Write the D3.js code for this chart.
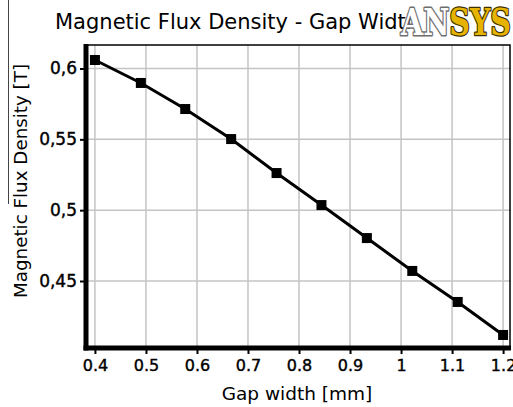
<!DOCTYPE html>
<html>
<head>
<meta charset="utf-8">
<script src="https://cdn.jsdelivr.net/npm/d3@7"></script>
<style>
  body { margin: 0; background: #fff; }
  svg { display: block; font-family: "DejaVu Sans", sans-serif; }
  .grid line { stroke: #c4c4c4; stroke-width: 1.5; }
</style>
</head>
<body>
<div id="chart"></div>
<script>
// gap width [mm] and flux density [T]
const gapWidth = [0.4, 0.49, 0.577, 0.667, 0.756, 0.844, 0.933, 1.022, 1.111, 1.2];
const fluxDensity = [0.606, 0.5898, 0.5714, 0.5502, 0.5262, 0.5036, 0.4803, 0.4571, 0.4352, 0.4119];
const xTicks = [0.4, 0.5, 0.6, 0.7, 0.8, 0.9, 1, 1.1, 1.2];
const yTicks = [0.45, 0.5, 0.55, 0.6];

const width = 513, height = 407;
const margin = {top: 45, right: 2, bottom: 59, left: 86};

const svg = d3.select("#chart").append("svg")
    .attr("width", width)
    .attr("height", height);

// scales
const x = d3.scaleLinear()
    .domain([0.3825, 1.2155])
    .range([margin.left, width - margin.right]);
const y = d3.scaleLinear()
    .domain([0.4027, 0.6166])
    .range([height - margin.bottom, margin.top]);

// grid
const grid = svg.append("g").attr("class", "grid");
grid.selectAll(".gx").data(xTicks).enter().append("line")
    .attr("x1", d => x(d)).attr("x2", d => x(d))
    .attr("y1", y.range()[1]).attr("y2", y.range()[0]);
grid.selectAll(".gy").data(yTicks).enter().append("line")
    .attr("y1", d => y(d)).attr("y2", d => y(d))
    .attr("x1", x.range()[0]).attr("x2", x.range()[1]);

// frame: thin top / right, heavy left / bottom
svg.append("rect")
    .attr("x", x.range()[0]).attr("y", y.range()[1])
    .attr("width", x.range()[1] - x.range()[0] - 1)
    .attr("height", y.range()[0] - y.range()[1])
    .attr("fill", "none").attr("stroke", "#000").attr("stroke-width", 1.5);

// x axis
const xAxis = svg.append("g")
    .attr("transform", "translate(0," + y.range()[0] + ")")
    .call(d3.axisBottom(x).tickValues(xTicks).tickSize(6).tickSizeOuter(0)
      .tickFormat(d => d3.format("")(d)));
xAxis.select(".domain").remove();
xAxis.selectAll(".tick line").attr("stroke", "#000").attr("stroke-width", 2);
xAxis.selectAll(".tick text").attr("y", 12).attr("dy", "0.71em")
    .attr("fill", "#000").attr("stroke", "#000").attr("stroke-width", 0.4)
    .style("font-size", "16px").style("font-family", "DejaVu Sans");

// y axis
const yAxis = svg.append("g")
    .attr("transform", "translate(" + x.range()[0] + ",0)")
    .call(d3.axisLeft(y).tickValues(yTicks).tickSize(6).tickSizeOuter(0)
      .tickFormat(d => String(d).replace(".", ",")));
yAxis.select(".domain").remove();
yAxis.selectAll(".tick line").attr("stroke", "#000").attr("stroke-width", 2);
yAxis.selectAll(".tick text").attr("x", -9)
    .attr("fill", "#000").attr("stroke", "#000").attr("stroke-width", 0.4)
    .style("font-size", "17px").style("font-family", "DejaVu Sans");

// heavy left and bottom border
svg.append("line")
    .attr("x1", x.range()[0]).attr("x2", x.range()[0])
    .attr("y1", y.range()[1] - 1).attr("y2", y.range()[0] + 2.5)
    .attr("stroke", "#000").attr("stroke-width", 5);
svg.append("line")
    .attr("x1", x.range()[0] - 2.5).attr("x2", x.range()[1])
    .attr("y1", y.range()[0]).attr("y2", y.range()[0])
    .attr("stroke", "#000").attr("stroke-width", 5);

// series
const pts = gapWidth.map((g, i) => [g, fluxDensity[i]]);
svg.append("path")
    .datum(pts)
    .attr("fill", "none")
    .attr("stroke", "#000")
    .attr("stroke-width", 3)
    .attr("d", d3.line().x(d => x(d[0])).y(d => y(d[1])));
const s = 10;
svg.selectAll(".mk").data(pts).enter().append("rect")
    .attr("x", d => x(d[0]) - s / 2)
    .attr("y", d => y(d[1]) - s / 2)
    .attr("width", s).attr("height", s)
    .attr("fill", "#000");

// axis titles
svg.append("text")
    .attr("x", 297)
    .attr("y", 400)
    .attr("text-anchor", "middle")
    .style("font-size", "18.5px")
    .text("Gap width [mm]");
svg.append("text")
    .attr("transform", "translate(27,181) rotate(-90)")
    .attr("text-anchor", "middle")
    .style("font-size", "18.3px")
    .text("Magnetic Flux Density [T]");

// chart title
svg.append("text")
    .attr("x", 55).attr("y", 29)
    .style("font-size", "21px")
    .text("Magnetic Flux Density - Gap Width");

// ANSYS logo
const logo = svg.append("text")
    .attr("x", 401).attr("y", 35)
    .attr("textLength", 110)
    .attr("lengthAdjust", "spacingAndGlyphs")
    .style("font-family", "DejaVu Serif")
    .style("font-weight", "bold")
    .style("font-size", "37px")
    .style("paint-order", "stroke")
    .attr("stroke-linejoin", "round");
logo.append("tspan").text("AN")
    .attr("fill", "#fff").attr("stroke", "#6e6e6e").attr("stroke-width", 3);
logo.append("tspan").text("SYS")
    .attr("fill", "#e6b400").attr("stroke", "#3a3000").attr("stroke-width", 2.5);

// stray edge line in the scan
svg.append("line")
    .attr("x1", 8.5).attr("x2", 8.5).attr("y1", 0).attr("y2", 204)
    .attr("stroke", "#444").attr("stroke-width", 1);
</script>
</body>
</html>
